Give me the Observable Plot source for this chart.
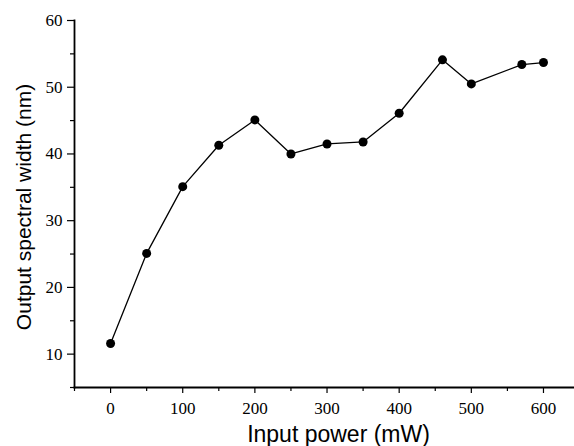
<!DOCTYPE html>
<html>
<head>
<meta charset="utf-8">
<script src="https://cdn.jsdelivr.net/npm/d3@7"></script>
<script src="https://cdn.jsdelivr.net/npm/@observablehq/plot@0.6"></script>
<style>
  html, body { margin: 0; padding: 0; background: #fff; }
  #chart svg { display: block; }
</style>
</head>
<body>
<div id="chart"></div>
<script>
// Data
const inputPower = [0, 50, 100, 150, 200, 250, 300, 350, 400, 460, 500, 570, 600];
const spectralWidth = [11.6, 25.1, 35.1, 41.3, 45.1, 40.0, 41.5, 41.8, 46.1, 54.1, 50.5, 53.4, 53.7];

const xMajorTicks = [0, 100, 200, 300, 400, 500, 600];
const xMinorTicks = [-50, 50, 150, 250, 350, 450, 550];
const yMajorTicks = [10, 20, 30, 40, 50, 60];
const yMinorTicks = [5, 15, 25, 35, 45, 55];

const xLabel = "Input power (mW)";
const yLabel = "Output spectral width (nm)";

const data = inputPower.map((p, i) => ({power: p, width: spectralWidth[i]}));

const serif = "'Liberation Serif', 'DejaVu Serif', serif";
const sans = "'Liberation Sans', Arial, sans-serif";

const chart = Plot.plot({
  width: 574,
  height: 446,
  marginLeft: 74,
  marginTop: 20,
  marginBottom: 59,
  marginRight: 0,
  style: {fontFamily: serif, fontSize: "17px", color: "#000", background: "#fff"},
  x: {domain: [-50, 643], label: null},
  y: {domain: [5, 60], label: null},
  marks: [
    Plot.axisX(xMajorTicks, {tickSize: 6, tickPadding: 8, fontSize: 17, fontFamily: serif, stroke: "#000", strokeWidth: 1.2, label: null}),
    Plot.axisX(xMinorTicks, {tickSize: 4, text: null, stroke: "#000", strokeWidth: 1.2, label: null}),
    Plot.axisY(yMajorTicks, {tickSize: 7, tickPadding: 5, fontSize: 17, fontFamily: serif, stroke: "#000", strokeWidth: 1.2, label: null}),
    Plot.axisY(yMinorTicks, {tickSize: 4, text: null, stroke: "#000", strokeWidth: 1.2, label: null}),
    Plot.frame({anchor: "left", stroke: "#000", strokeWidth: 1.8}),
    Plot.frame({anchor: "bottom", stroke: "#000", strokeWidth: 1.8}),
    Plot.line(data, {x: "power", y: "width", stroke: "#000", strokeWidth: 1.3}),
    Plot.dot(data, {x: "power", y: "width", r: 4.5, fill: "#000", stroke: "none"}),
    Plot.text([xLabel], {text: d => d, frameAnchor: "bottom", textAnchor: "middle", dx: 14, dy: 47, fontFamily: sans, fontSize: 23, lineAnchor: "middle", fill: "#000"}),
    Plot.text([yLabel], {text: d => d, frameAnchor: "left", textAnchor: "middle", dx: -50, dy: 3, rotate: -90, fontFamily: sans, fontSize: 21, lineAnchor: "middle", fill: "#000"})
  ]
});
document.getElementById("chart").appendChild(chart);
</script>
</body>
</html>
